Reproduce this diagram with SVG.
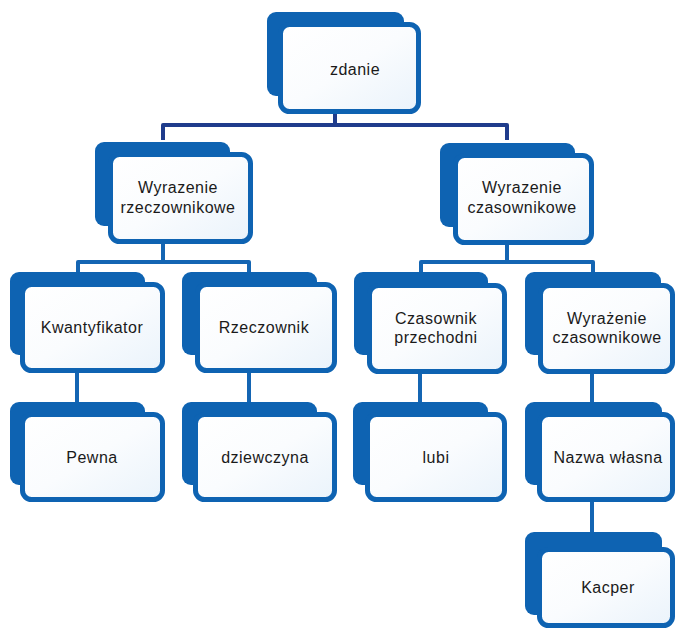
<svg xmlns="http://www.w3.org/2000/svg" width="676" height="629" viewBox="0 0 676 629">
<defs>
<linearGradient id="fg" x1="0" y1="0" x2="1" y2="1">
<stop offset="0" stop-color="#ffffff"/>
<stop offset="0.5" stop-color="#fafcfe"/>
<stop offset="1" stop-color="#eaf3fb"/>
</linearGradient>
<style>
.back{fill:#0e63b2;}
.front{fill:url(#fg);stroke:#0e63b2;stroke-width:5;}
.c1{fill:none;stroke:#1f3c8c;stroke-width:4;stroke-linejoin:round;}
.c2{fill:none;stroke:#1465b3;stroke-width:4;stroke-linejoin:round;}
text{font-family:"Liberation Sans",Arial,sans-serif;font-size:16px;fill:#1a1a1a;text-anchor:middle;letter-spacing:0.5px;}
</style>
</defs>
<rect width="676" height="629" fill="#ffffff"/>
<g id="connectors">
<path class="c1" d="M335,112 V125 M163,140 V125 H507 V140"/>
<path class="c2" d="M163,242 V262 M78,272 V262 H249 V272"/>
<path class="c2" d="M507,243 V262 M421,272 V262 H593 V272"/>
<path class="c2" d="M77,371 V402"/>
<path class="c2" d="M249,371 V402"/>
<path class="c2" d="M420,372 V402"/>
<path class="c2" d="M592,372 V402"/>
<path class="c2" d="M592,500 V532"/>
</g>
<g id="n-zdanie">
<rect class="back" x="267" y="12" width="137" height="84" rx="9"/>
<rect class="front" x="280.5" y="24.5" width="138" height="87" rx="9"/>
<text x="355" y="75">zdanie</text>
</g>
<g id="n-wyr-rzecz">
<rect class="back" x="95" y="142" width="135" height="84" rx="9"/>
<rect class="front" x="110.5" y="154.5" width="140" height="87" rx="9"/>
<text x="178" y="193">Wyrazenie</text>
<text x="178" y="213">rzeczownikowe</text>
</g>
<g id="n-wyr-czas">
<rect class="back" x="440" y="143" width="135" height="84" rx="9"/>
<rect class="front" x="455.5" y="155.5" width="136" height="87" rx="9"/>
<text x="522" y="193">Wyrazenie</text>
<text x="522" y="213">czasownikowe</text>
</g>
<g id="n-kwant">
<rect class="back" x="10" y="272" width="135" height="83" rx="9"/>
<rect class="front" x="22.5" y="284.5" width="140" height="86" rx="9"/>
<text x="92" y="333">Kwantyfikator</text>
</g>
<g id="n-rzecz">
<rect class="back" x="182" y="272" width="135" height="83" rx="9"/>
<rect class="front" x="197.5" y="284.5" width="137" height="86" rx="9"/>
<text x="264" y="333">Rzeczownik</text>
</g>
<g id="n-czas-prz">
<rect class="back" x="354" y="272" width="134" height="83" rx="9"/>
<rect class="front" x="369.5" y="285.5" width="135" height="86" rx="9"/>
<text x="436" y="324">Czasownik</text>
<text x="436" y="343">przechodni</text>
</g>
<g id="n-wyr-czas2">
<rect class="back" x="525" y="272" width="136" height="83" rx="9"/>
<rect class="front" x="540.5" y="285.5" width="132" height="86" rx="9"/>
<text x="607" y="324">Wyrażenie</text>
<text x="607" y="343">czasownikowe</text>
</g>
<g id="n-pewna">
<rect class="back" x="10" y="402" width="135" height="83" rx="9"/>
<rect class="front" x="22.5" y="414.5" width="140" height="85" rx="9"/>
<text x="92" y="463">Pewna</text>
</g>
<g id="n-dziewczyna">
<rect class="back" x="182" y="402" width="135" height="83" rx="9"/>
<rect class="front" x="195.5" y="414.5" width="139" height="85" rx="9"/>
<text x="265" y="463">dziewczyna</text>
</g>
<g id="n-lubi">
<rect class="back" x="353" y="402" width="135" height="83" rx="9"/>
<rect class="front" x="367.5" y="414.5" width="137" height="85" rx="9"/>
<text x="436" y="463">lubi</text>
</g>
<g id="n-nazwa">
<rect class="back" x="525" y="402" width="137" height="83" rx="9"/>
<rect class="front" x="539.5" y="414.5" width="133" height="85" rx="9"/>
<text x="608" y="463">Nazwa własna</text>
</g>
<g id="n-kacper">
<rect class="back" x="525" y="532" width="137" height="83" rx="9"/>
<rect class="front" x="539.5" y="549.5" width="133" height="76" rx="9"/>
<text x="608" y="593">Kacper</text>
</g>
</svg>
